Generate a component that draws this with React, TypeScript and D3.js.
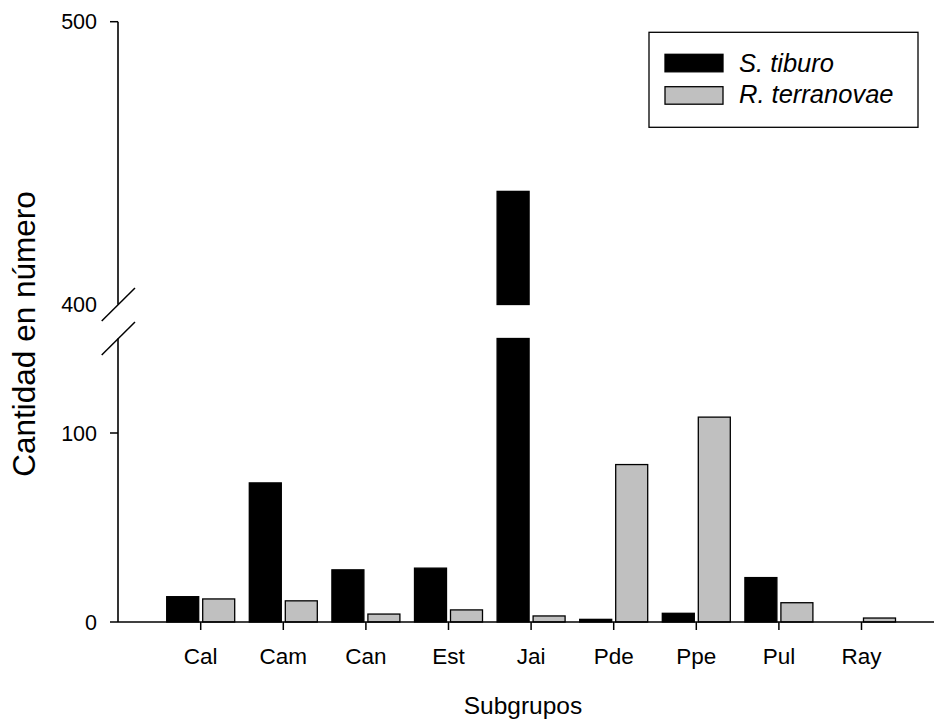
import React from "react";
import * as d3 from "d3";

const categories = ["Cal", "Cam", "Can", "Est", "Jai", "Pde", "Ppe", "Pul", "Ray"];
const sTiburo = [13.4, 73.6, 27.6, 28.5, 440, 1.4, 4.6, 23.5, 0];
const rTerranovae = [12.2, 11.2, 4.2, 6.4, 3.2, 83.3, 108.4, 10.2, 2.1];
const lowerTicks = [0, 100];
const upperTicks = [400, 500];
const lowerDomain = [0, 150];
const upperDomain = [400, 500];
const seriesNames = ["S. tiburo", "R. terranovae"];
const seriesColors = ["#000000", "#c0c0c0"];

const W = 934;
const H = 722;
const axisX = 118;
const font = "'Liberation Sans', Arial, Helvetica, sans-serif";

export default function App() {
  const x = d3.scaleBand<string>().domain(categories).range([159.4, 159.4 + 82.6 * 9]).padding(0);
  const yLow = d3.scaleLinear().domain(lowerDomain).range([622, 338.5]);
  const yHigh = d3.scaleLinear().domain(upperDomain).range([304.5, 21.7]);
  const center = (c: string) => (x(c) as number) + x.bandwidth() / 2;
  const bw = 32;

  const barParts = (v: number) => {
    const parts: { y0: number; y1: number }[] = [];
    if (v <= lowerDomain[1]) {
      parts.push({ y0: yLow(0), y1: yLow(v) });
    } else {
      parts.push({ y0: yLow(0), y1: yLow(lowerDomain[1]) });
      if (v > upperDomain[0]) parts.push({ y0: yHigh(upperDomain[0]), y1: yHigh(v) });
    }
    return parts;
  };

  const series = [sTiburo, rTerranovae];

  return (
    <svg width={W} height={H} style={{ position: "absolute", left: 0, top: 0, background: "#fff" }}>
      <rect width={W} height={H} fill="#fff" />
      {/* bars */}
      {series.map((vals, si) =>
        categories.map((c, i) => {
          const v = vals[i];
          if (v <= 0) return null;
          const cx = center(c);
          const bx = si === 0 ? cx - 34 : cx + 2;
          return barParts(v).map((p, k) => (
            <rect
              key={`${si}-${i}-${k}`}
              x={bx}
              y={Math.min(p.y0, p.y1)}
              width={bw}
              height={Math.abs(p.y0 - p.y1)}
              fill={seriesColors[si]}
              stroke="#000"
              strokeWidth={1.3}
            />
          ));
        })
      )}
      {/* x axis */}
      <line x1={axisX} x2={W} y1={622} y2={622} stroke="#000" strokeWidth={1.6} />
      {categories.map((c) => (
        <g key={c}>
          <line x1={center(c)} x2={center(c)} y1={622} y2={630} stroke="#000" strokeWidth={1.5} />
          <text x={center(c)} y={664} textAnchor="middle" fontFamily={font} fontSize={22.5} fill="#000">
            {c}
          </text>
        </g>
      ))}
      {/* y axis */}
      <line x1={axisX} x2={axisX} y1={yHigh(upperDomain[1])} y2={yHigh(upperDomain[0])} stroke="#000" strokeWidth={1.6} />
      <line x1={axisX} x2={axisX} y1={yLow(lowerDomain[1])} y2={yLow(0)} stroke="#000" strokeWidth={1.6} />
      {/* break marks */}
      <line x1={101.7} y1={yHigh(400) + 16.5} x2={135} y2={yHigh(400) - 16.5} stroke="#000" strokeWidth={1.5} />
      <line x1={101.7} y1={yLow(150) + 16.5} x2={135} y2={yLow(150) - 16.5} stroke="#000" strokeWidth={1.5} />
      {lowerTicks.map((t) => (
        <g key={`l${t}`}>
          <line x1={110} x2={axisX} y1={yLow(t)} y2={yLow(t)} stroke="#000" strokeWidth={1.5} />
          <text x={97} y={yLow(t)} dy="0.36em" textAnchor="end" fontFamily={font} fontSize={21.5}>
            {t}
          </text>
        </g>
      ))}
      {upperTicks.map((t) => (
        <g key={`u${t}`}>
          {t !== upperDomain[0] && (
            <line x1={110} x2={axisX} y1={yHigh(t)} y2={yHigh(t)} stroke="#000" strokeWidth={1.5} />
          )}
          <text x={97} y={yHigh(t)} dy="0.36em" textAnchor="end" fontFamily={font} fontSize={21.5}>
            {t}
          </text>
        </g>
      ))}
      {/* axis titles */}
      <text x={523} y={714} textAnchor="middle" fontFamily={font} fontSize={24.5}>
        Subgrupos
      </text>
      <text
        transform="translate(35,334) rotate(-90)"
        textAnchor="middle"
        fontFamily={font}
        fontSize={31.5}
      >
        Cantidad en número
      </text>
      {/* legend */}
      <rect x={649} y={32.3} width={269} height={95} fill="#fff" stroke="#000" strokeWidth={1.3} />
      {seriesNames.map((n, i) => (
        <g key={n}>
          <rect
            x={665}
            y={54.3 + i * 32.4}
            width={58}
            height={17.5}
            fill={seriesColors[i]}
            stroke="#000"
            strokeWidth={1.3}
          />
          <text x={739} y={72 + i * 31.2} fontFamily={font} fontSize={25.5} fontStyle="italic">
            {n}
          </text>
        </g>
      ))}
    </svg>
  );
}
